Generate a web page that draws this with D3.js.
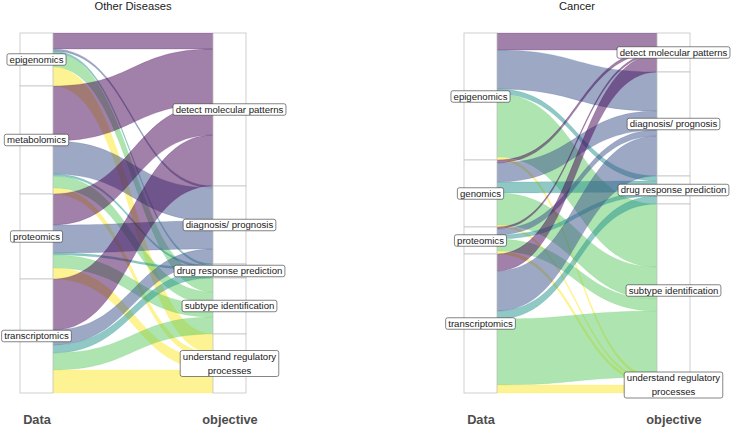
<!DOCTYPE html>
<html>
<head>
<meta charset="utf-8">
<script src="https://cdn.jsdelivr.net/npm/d3@7"></script>
<style>
  body { margin: 0; background: #fff; }
  text { font-family: "Liberation Sans", Arial, sans-serif; }
</style>
</head>
<body>
<svg id="chart" width="731" height="428"></svg>
<script>
const objectives = [
  "detect molecular patterns",
  "diagnosis/ prognosis",
  "drug response prediction",
  "subtype identification",
  "understand regulatory processes",
];
const panelTitles = ["Other Diseases", "Cancer"];
const axisNames = ["Data", "objective"];

// rows: data source, columns: objective (same order as objectives)
const otherSources = ["epigenomics", "metabolomics", "proteomics", "transcriptomics"];
const otherCounts = [
  [16, 2, 2, 14, 19],
  [55, 33, 2, 12, 6],
  [31, 28, 2, 13, 11],
  [51, 15, 8, 17, 23],
];

const cancerSources = ["epigenomics", "genomics", "proteomics", "transcriptomics"];
const cancerCounts = [
  [17, 39, 5, 63, 3],
  [3, 19, 11, 32, 2],
  [2, 6, 4, 12, 3],
  [17, 40, 8, 66, 8],
];

const svg = d3.select("#chart");
const plotTop = 33;
const plotBottom = 393;
const boxW = 33;
const panelW = 226;

const color = d3
  .scaleOrdinal()
  .domain(objectives)
  .range(d3.quantize(d3.interpolateViridis, 5));

function wrap(label) {
  return label.length > 26 ? ["understand regulatory", "processes"] : [label];
}

function addLabel(g, cx, cy, label) {
  const lines = wrap(label);
  const fs = 9.6;
  const lh = 14;
  const lg = g.append("g").attr("transform", `translate(${cx},${cy})`);
  const rect = lg.append("rect");
  const txt = lg
    .selectAll("text")
    .data(lines)
    .join("text")
    .attr("text-anchor", "middle")
    .attr("font-size", fs)
    .attr("fill", "#1a1a1a")
    .attr("y", (d, i) => (i - (lines.length - 1) / 2) * lh + fs * 0.35)
    .text((d) => d);
  let w = 0;
  txt.each(function () {
    w = Math.max(w, this.getComputedTextLength());
  });
  const h = lines.length === 1 ? 11.5 : 26;
  rect
    .attr("x", -w / 2 - 2.6)
    .attr("y", -h / 2)
    .attr("width", w + 5.2)
    .attr("height", h)
    .attr("rx", 2)
    .attr("fill", "#fff")
    .attr("stroke", "#333")
    .attr("stroke-width", 0.6);
}

function drawPanel(title, sources, counts, x0) {
  const g = svg.append("g");
  const x = d3
    .scalePoint()
    .domain(axisNames)
    .range([x0 + boxW / 2, x0 + panelW - boxW / 2]);
  const total = d3.sum(counts.flat());
  const y = d3.scaleLinear().domain([0, total]).range([plotTop, plotBottom]);

  const rowTot = counts.map((r) => d3.sum(r));
  const colTot = objectives.map((o, j) => d3.sum(counts, (r) => r[j]));
  const rowStart = [0, ...d3.cumsum(rowTot)];
  const colStart = [0, ...d3.cumsum(colTot)];

  const flows = [];
  counts.forEach((row, i) => {
    row.forEach((v, j) => {
      const l0 = rowStart[i] + d3.sum(row.slice(0, j));
      const r0 = colStart[j] + d3.sum(counts.slice(0, i), (r) => r[j]);
      flows.push({ src: sources[i], obj: objectives[j], v, l0, r0 });
    });
  });

  const xa = x("Data") + boxW / 2;
  const xb = x("objective") - boxW / 2;
  const xm = (xa + xb) / 2;

  g.selectAll("path.flow")
    .data(flows.filter((d) => d.v > 0))
    .join("path")
    .attr("class", "flow")
    .attr("d", (d) => {
      const a0 = y(d.l0), a1 = y(d.l0 + d.v);
      const b0 = y(d.r0), b1 = y(d.r0 + d.v);
      return `M${xa},${a0}C${xm},${a0} ${xm},${b0} ${xb},${b0}` +
        `L${xb},${b1}C${xm},${b1} ${xm},${a1} ${xa},${a1}Z`;
    })
    .attr("fill", (d) => color(d.obj))
    .attr("fill-opacity", 0.5)
    .attr("stroke", (d) => color(d.obj))
    .attr("stroke-opacity", 0.35)
    .attr("stroke-width", 0.5);

  const strata = [
    ...sources.map((s, i) => ({ axis: "Data", name: s, y0: rowStart[i], y1: rowStart[i + 1] })),
    ...objectives.map((o, j) => ({ axis: "objective", name: o, y0: colStart[j], y1: colStart[j + 1] })),
  ];

  g.selectAll("rect.stratum")
    .data(strata)
    .join("rect")
    .attr("class", "stratum")
    .attr("x", (d) => x(d.axis) - boxW / 2)
    .attr("y", (d) => y(d.y0))
    .attr("width", boxW)
    .attr("height", (d) => y(d.y1) - y(d.y0))
    .attr("fill", "#fff")
    .attr("stroke", "#c4c4c4")
    .attr("stroke-width", 0.8);

  strata.forEach((d) => addLabel(g, x(d.axis), (y(d.y0) + y(d.y1)) / 2, d.name));

  g.append("text")
    .attr("x", x0 + panelW / 2)
    .attr("y", 9.5)
    .attr("text-anchor", "middle")
    .attr("font-size", 11.2)
    .attr("fill", "#1a1a1a")
    .text(title);

  g.append("g")
    .attr("transform", `translate(0,${plotBottom + 19})`)
    .call(d3.axisBottom(x).tickSize(0))
    .call((a) => a.select(".domain").remove())
    .call((a) =>
      a.selectAll("text")
        .attr("font-size", 12.8)
        .attr("font-weight", "bold")
        .attr("fill", "#4d4d4d")
        .attr("font-family", '"Liberation Sans", Arial, sans-serif')
    );
}

drawPanel(panelTitles[0], otherSources, otherCounts, 20);
drawPanel(panelTitles[1], cancerSources, cancerCounts, 464);
</script>
</body>
</html>
